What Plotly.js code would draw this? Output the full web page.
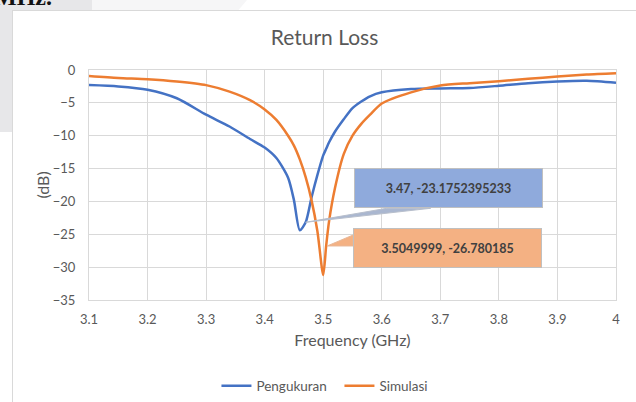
<!DOCTYPE html>
<html>
<head>
<meta charset="utf-8">
<script src="https://cdn.plot.ly/plotly-3.0.1.min.js"></script>
<style>
  html, body { margin:0; padding:0; background:#ffffff; width:636px; height:402px; overflow:hidden; position:relative; }
  #bgA { position:absolute; left:0; top:0; width:92px; height:11px; background:#e7e7e9; }
  #bgB { position:absolute; left:0; top:0; width:12px; height:132px; background:#e7e7e9; }
  #bgC { position:absolute; left:92px; top:0; width:155px; height:11px; background:#f6f6f7;
         clip-path: polygon(0 0, 100% 0, 94% 100%, 0 100%); }
  #doc { position:absolute; left:-6px; top:-15px; font-family:"Liberation Serif", serif; font-weight:bold;
         font-size:24px; color:#111; line-height:24px; }
  #chart { position:absolute; left:12px; top:10px; width:623px; height:391px; border:1px solid #d9d9d9; background:#fff; }
</style>
</head>
<body>
<div id="bgA"></div><div id="bgB"></div><div id="bgC"></div>
<div id="doc">MHz.</div>
<div id="chart"></div>
<script>
// Frequency (GHz)
const freq = [3.10, 3.15, 3.20, 3.25, 3.30, 3.34, 3.375, 3.40, 3.42, 3.44, 3.45, 3.46, 3.47, 3.48, 3.49, 3.50, 3.505, 3.51, 3.52, 3.535, 3.55, 3.565, 3.58, 3.60, 3.65, 3.70, 3.75, 3.80, 3.85, 3.90, 3.95, 4.00];
// Pengukuran (measured) return loss, dB
const pengukuran = [-2.3, -2.5, -3.0, -4.3, -6.8, -8.6, -10.5, -11.8, -13.4, -16.4, -19.8, -24.4, -23.1752395233, -19.4, -16.0, -13.0, -12.0, -11.0, -9.4, -7.5, -5.8, -4.8, -4.0, -3.4, -2.9, -2.8, -2.75, -2.4, -2.0, -1.75, -1.65, -1.95];
// Simulasi (simulated) return loss, dB
const simulasi = [-0.9, -1.2, -1.4, -1.75, -2.3, -3.3, -4.6, -6.0, -7.6, -10.0, -11.5, -13.6, -16.3, -19.8, -24.5, -31.2, -26.780185, -23.0, -18.0, -12.8, -10.0, -8.2, -6.8, -5.1, -3.4, -2.35, -2.0, -1.7, -1.35, -1.0, -0.7, -0.5];

const seriesNames = ["Pengukuran", "Simulasi"];
const seriesColors = ["#4472C4", "#ED7D31"];
// Data labels (callouts)
const labelBlue = {x: 3.47, y: -23.1752395233, text: "3.47, -23.1752395233"};
const labelOrange = {x: 3.5049999, y: -26.780185, text: "3.5049999, -26.780185"};

const font = "Lato, 'Open Sans', sans-serif";
const gray = "#595959";

const traces = [
  {x: freq, y: pengukuran, name: seriesNames[0], type: "scatter", mode: "lines",
   line: {color: seriesColors[0], width: 2.5, shape: "spline", smoothing: 0.7}},
  {x: freq, y: simulasi, name: seriesNames[1], type: "scatter", mode: "lines",
   line: {color: seriesColors[1], width: 2.5, shape: "spline", smoothing: 0.7}}
];

const layout = {
  width: 623, height: 391,
  margin: {l: 76, r: 20, t: 59, b: 102},
  paper_bgcolor: "#ffffff", plot_bgcolor: "#ffffff",
  font: {family: font, color: gray, size: 13},
  title: {text: "Return Loss", font: {family: font, size: 21, color: gray},
          x: 0.5, xref: "container", y: 1 - 27/391, yref: "container", yanchor: "middle"},
  showlegend: true,
  legend: {orientation: "h", x: 0.524, xref: "container", xanchor: "center",
           y: 1 - 375/391, yref: "container", yanchor: "middle",
           font: {family: font, size: 13.5, color: gray}, itemwidth: 30, tracegroupgap: 0,
           entrywidth: 78, entrywidthmode: "pixels"},
  xaxis: {range: [3.1, 4.0], dtick: 0.1, tick0: 3.1, showgrid: true, gridcolor: "#d9d9d9", gridwidth: 1,
          zeroline: false, showline: true, mirror: true, linecolor: "#d9d9d9", linewidth: 1,
          ticks: "", ticklabelstandoff: 7, tickfont: {family: font, size: 13, color: gray},
          title: {text: "Frequency (GHz)", font: {family: font, size: 16, color: gray}, standoff: 9},
          fixedrange: true},
  yaxis: {range: [-35, 0], dtick: 5, showgrid: true, gridcolor: "#d9d9d9", gridwidth: 1,
          zeroline: false, showline: true, mirror: true, linecolor: "#d9d9d9", linewidth: 1,
          ticks: "", ticklabelstandoff: 10, tickfont: {family: font, size: 13, color: gray},
          fixedrange: true},
  annotations: [
    {xref: "paper", yref: "paper", x: -0.09, y: 0.5, text: "(dB)", showarrow: false, textangle: -90,
     font: {family: font, size: 16, color: gray}, xanchor: "center", yanchor: "middle"},
    {x: labelBlue.x, y: labelBlue.y, text: "<b>" + labelBlue.text + "</b>", showarrow: false,
     xshift: 143, yshift: 34, width: 187, height: 38, bgcolor: "#8FAADC", bordercolor: "#c0c0c0",
     borderwidth: 1, borderpad: 0, font: {family: font, size: 12.5, color: "#404040"}},
    {x: labelOrange.x, y: labelOrange.y, text: "<b>" + labelOrange.text + "</b>", showarrow: false,
     xshift: 121, yshift: -2, width: 187, height: 38, bgcolor: "#F4B183", bordercolor: "#c0c0c0",
     borderwidth: 1, borderpad: 0, font: {family: font, size: 12.5, color: "#404040"}}
  ],
  shapes: [
    {type: "path", xsizemode: "pixel", ysizemode: "pixel", xanchor: labelBlue.x, yanchor: labelBlue.y,
     path: "M0,0 L81,14 L125,14 Z", fillcolor: "#aab7d0", line: {color: "#b8bfcc", width: 1}, layer: "above"},
    {type: "path", xsizemode: "pixel", ysizemode: "pixel", xanchor: labelOrange.x, yanchor: labelOrange.y,
     path: "M1,0 L27,11 L27,0 Z", fillcolor: "#F4B183", line: {color: "#e8b898", width: 1}, layer: "above"}
  ]
};

Plotly.newPlot("chart", traces, layout, {displayModeBar: false, staticPlot: true});
</script>
</body>
</html>
